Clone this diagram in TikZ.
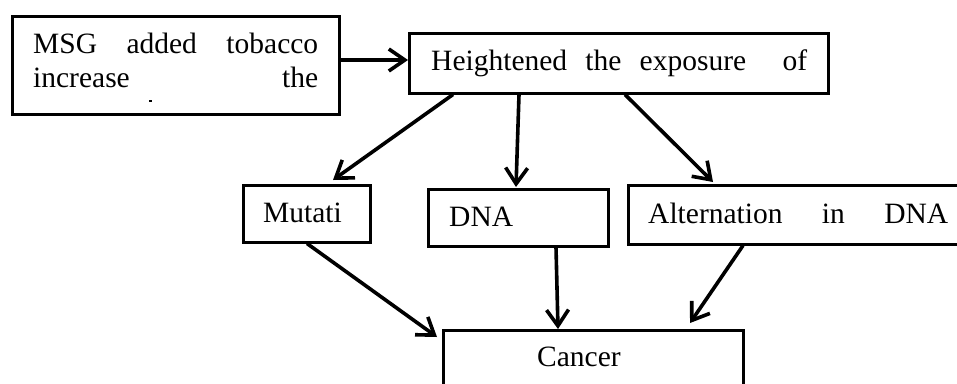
\documentclass[tikz,border=0pt]{standalone}
\usepackage{fontspec}
\setmainfont{Liberation Serif}
\usetikzlibrary{arrows.meta,calc}
\begin{document}
\begin{tikzpicture}[x=1pt,y=-1pt,
  box/.style={draw,line width=2.5pt,rectangle,inner sep=0pt,anchor=north west},
  arr/.style={line width=3.6pt,-{Straight Barb[length=16pt,width=22pt]}},
  txt/.style={inner sep=0pt,anchor=base west,font=\fontsize{29.5}{34}\selectfont}]
\clip (0,0) rectangle (957,383);
\fill[white] (0,0) rectangle (957,383);
% boxes
\node[box,minimum width=327pt,minimum height=98pt] (msg) at (11,15) {};
\node[box,minimum width=419pt,minimum height=60pt] (hei) at (408,32) {};
\node[box,minimum width=127pt,minimum height=57pt] (mut) at (242,184) {};
\node[box,minimum width=180pt,minimum height=57pt] (dna) at (427,188) {};
\node[box,minimum width=345pt,minimum height=59pt] (alt) at (627,184) {};
\node[box,minimum width=300pt,minimum height=90pt] (can) at (442,329) {};
% texts
\node[txt] (t1) at (33,53) {\makebox[285pt][s]{MSG added tobacco}};
\node[txt] (t2) at (33,87) {\makebox[285pt][s]{increase the}};
\fill (149,100) rectangle (152,101.5);
\node[txt] (t3) at (431,70) {\makebox[376pt][l]{Heightened\hfill the\hfill exposure\hfill\hfill of}};
\node[txt] (t4) at (263,222) {Mutati};
\node[txt] (t5) at (449,226) {DNA};
\node[txt] (t6) at (648,223) {\makebox[300pt][s]{Alternation in DNA}};
\node[txt] (t7) at (537,366) {Cancer};
% connectors
\draw[arr] ($(msg.north east)+(0,45)$) -- ($(hei.north west)+(0,28)$);
\draw[arr] ($(hei.south west)+(45,0)$) -- ($(mut.north west)+(91,-4)$);
\draw[arr] ($(hei.south west)+(111,0)$) -- ($(dna.north west)+(89,-1)$);
\draw[arr] ($(hei.south west)+(217,0)$) -- ($(alt.north west)+(86,-2)$);
\draw[arr] ($(mut.south west)+(65,0)$) -- ($(can.north west)+(-5,8)$);
\draw[arr] ($(dna.south west)+(129,0)$) -- ($(can.north west)+(116,0)$);
\draw[arr] ($(alt.south west)+(116,0)$) -- ($(can.north west)+(248,-6)$);
\end{tikzpicture}
\end{document}
